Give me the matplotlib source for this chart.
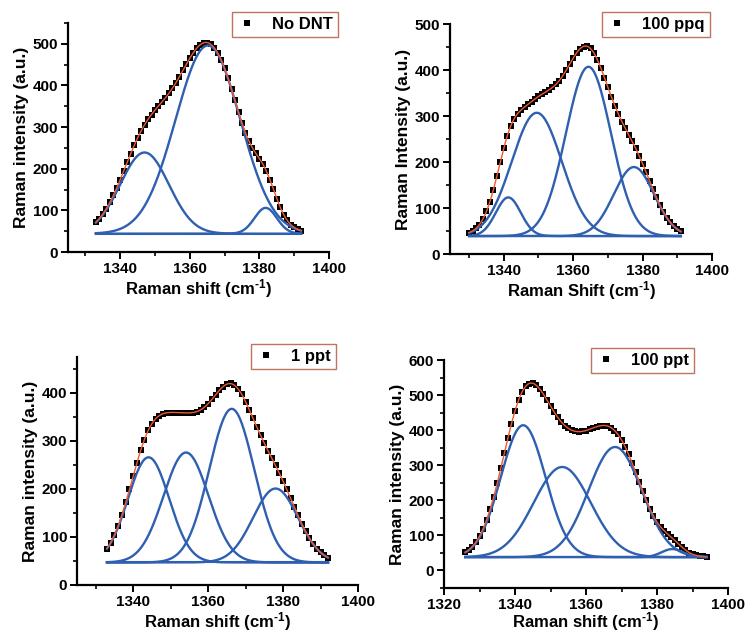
import numpy as np
import matplotlib
matplotlib.use("Agg")
import matplotlib.pyplot as plt
from matplotlib.ticker import MultipleLocator

plt.rcParams['font.family'] = ['Liberation Sans', 'DejaVu Sans']
plt.rcParams['font.weight'] = 'bold'
plt.rcParams['mathtext.fontset'] = 'custom'
plt.rcParams['mathtext.rm'] = 'Liberation Sans:bold'
plt.rcParams['mathtext.bf'] = 'Liberation Sans:bold'
plt.rcParams['mathtext.default'] = 'bf'

# ---------------- data ----------------
# Panel 1: No DNT
x_nodnt = list(range(1333, 1393))
y_nodnt = [72, 80, 91, 104, 119, 136, 154, 174, 194, 215, 236, 256, 274, 291, 306,
           319, 330, 341, 351, 360, 370, 381, 393, 406, 421, 436, 451, 465, 479, 490,
           498, 502, 503, 499, 491, 478, 461, 441, 417, 391, 364, 336, 310, 286, 266,
           250, 237, 224, 211, 194, 174, 152, 128, 107, 90, 76, 66, 59, 55, 51]
base_nodnt = 44
peaks_nodnt = [(1347.0, 195, 7.0), (1365.2, 452, 9.3), (1381.8, 62, 3.2)]  # centre, height, sigma

# Panel 2: 100 ppq
x_ppq = list(range(1330, 1392))
y_ppq = [46, 50, 56, 64, 76, 93, 114, 140, 169, 200, 230, 257, 278, 294, 305,
         313, 320, 326, 331, 337, 343, 347, 352, 357, 362, 369, 377, 388, 400, 413,
         426, 438, 446, 451, 452, 447, 436, 422, 404, 383, 363, 342, 322, 305, 288,
         274, 259, 245, 230, 214, 196, 178, 159, 141, 123, 107, 92, 79, 69, 60,
         54, 49]
base_ppq = 39
peaks_ppq = [(1341.3, 84, 3.6), (1349.5, 268, 7.2), (1364.4, 368, 6.5), (1377.5, 150, 5.8)]

# Panel 3: 1 ppt
x_1ppt = list(range(1333, 1393))
y_1ppt = [76, 88, 104, 123, 146, 172, 199, 227, 255, 281, 303, 322, 336, 346, 353,
          357, 359, 359, 359, 359, 359, 358, 359, 359, 361, 365, 370, 378, 387, 396,
          406, 413, 418, 420, 416, 408, 397, 382, 365, 347, 329, 312, 295, 280, 264,
          249, 233, 216, 199, 181, 162, 145, 127, 112, 98, 86, 76, 68, 62, 57]
base_1ppt = 47
peaks_1ppt = [(1344.1, 219, 5.5), (1354.1, 229, 6.0), (1366.3, 320, 6.0), (1378.0, 154, 6.0)]

# Panel 4: 100 ppt
x_100ppt = list(range(1326, 1395))
y_100ppt = [52, 59, 68, 81, 98, 119, 144, 175, 210, 249, 291, 334, 377, 418, 455,
            485, 509, 525, 533, 534, 528, 517, 502, 486, 469, 452, 437, 424, 413, 405,
            400, 397, 396, 397, 399, 402, 406, 410, 412, 413, 412, 407, 399, 388, 372,
            353, 331, 306, 280, 253, 226, 200, 176, 156, 138, 124, 113, 104, 95, 86,
            76, 67, 58, 51, 46, 43, 41, 40, 39]
base_100ppt = 38
peaks_100ppt = [(1342.3, 376, 6.3), (1353.3, 257, 8.0), (1368.2, 314, 7.5), (1384.3, 23, 3.0)]

labels = ["No DNT", "100 ppq", "1 ppt", "100 ppt"]
ylabels = ["Raman intensity (a.u.)", "Raman Intensity (a.u.)",
           "Raman intensity (a.u.)", "Raman intensity (a.u.)"]
xlabels = ["Raman shift (cm$^{\\text{-1}}$)", "Raman Shift (cm$^{\\text{-1}}$)",
           "Raman shift (cm$^{\\text{-1}}$)", "Raman shift (cm$^{\\text{-1}}$)"]

# ---------------- styling ----------------
W, H = 748, 633
BLUE = '#2f5fb0'
RED = '#ee5a32'
EDGE = '#b0503a'

fig = plt.figure(figsize=(W / 100, H / 100), dpi=100)

def px_axes(left, top, right, bottom):
    return fig.add_axes([left / W, 1 - bottom / H, (right - left) / W, (bottom - top) / H])

panels = [
    dict(x=x_nodnt, y=y_nodnt, base=base_nodnt, peaks=peaks_nodnt,
         box=(68, 23, 329, 252), xlim=(1325, 1400), ylim=(0, 550), xmaj=[1340, 1360, 1380, 1400],
         ymaj=[0, 100, 200, 300, 400, 500], leg=(232, 12), xlp=1),
    dict(x=x_ppq, y=y_ppq, base=base_ppq, peaks=peaks_ppq,
         box=(450, 24, 712, 254), xlim=(1324.5, 1400), ylim=(0, 500), xmaj=[1340, 1360, 1380, 1400],
         ymaj=[0, 100, 200, 300, 400, 500], leg=(602, 12), xlp=1),
    dict(x=x_1ppt, y=y_1ppt, base=base_1ppt, peaks=peaks_1ppt,
         box=(77, 357, 358, 585), xlim=(1325, 1400), ylim=(0, 475), xmaj=[1340, 1360, 1380, 1400],
         ymaj=[0, 100, 200, 300, 400], leg=(251, 344), xlp=1),
    dict(x=x_100ppt, y=y_100ppt, base=base_100ppt, peaks=peaks_100ppt,
         box=(444, 360, 728, 588), xlim=(1320, 1400), ylim=(-50, 600),
         xmaj=[1320, 1340, 1360, 1380, 1400],
         ymaj=[0, 100, 200, 300, 400, 500, 600], leg=(591, 348), xlp=-1),
]

for i, p in enumerate(panels):
    ax = px_axes(*p['box'])
    x = np.asarray(p['x'], float)
    y = np.asarray(p['y'], float)
    xf = np.linspace(x[0], x[-1], 600)
    total = np.full_like(xf, p['base'], dtype=float)
    comps = []
    for c, h, s in p['peaks']:
        g = h * np.exp(-(xf - c) ** 2 / (2 * s * s))
        comps.append(g)
        total = total + g
    ax.plot(x, y, 's', color='black', ms=3.7, mew=0, zorder=2, label=labels[i])
    ax.plot([x[0], x[-1]], [p['base'], p['base']], color=BLUE, lw=1.5, zorder=3)
    for g in comps:
        ax.plot(xf, p['base'] + g, color=BLUE, lw=1.7, zorder=3)
    ax.plot(xf, total, color=RED, lw=1.0, zorder=4)

    ax.set_xlim(*p['xlim'])
    ax.set_ylim(*p['ylim'])
    ax.set_xticks(p['xmaj'])
    ax.set_yticks(p['ymaj'])
    ax.xaxis.set_minor_locator(MultipleLocator(10))
    ax.yaxis.set_minor_locator(MultipleLocator(50))
    for side in ('top', 'right'):
        ax.spines[side].set_visible(False)
    for side in ('left', 'bottom'):
        ax.spines[side].set_linewidth(1.6)
    ax.tick_params(which='major', direction='out', length=5, width=1.4, labelsize=11, pad=2)
    ax.tick_params(which='minor', direction='out', length=3, width=1.2)
    for lab in ax.get_xticklabels() + ax.get_yticklabels():
        lab.set_fontweight('bold')
    ax.set_xlabel(xlabels[i], fontsize=12, fontweight='bold', labelpad=p['xlp'])
    ax.set_ylabel(ylabels[i], fontsize=12.5, fontweight='bold', labelpad=3)

    lx, ly = p['leg']
    leg = ax.legend(loc='upper left', bbox_to_anchor=(lx / W, 1 - ly / H),
                    bbox_transform=fig.transFigure, frameon=True, fancybox=False,
                    handlelength=1.2, handletextpad=0.9, borderpad=0.3,
                    borderaxespad=0, prop={'weight': 'bold', 'size': 12},
                    markerscale=1.1)
    leg.get_frame().set_edgecolor(EDGE)
    leg.get_frame().set_linewidth(1.0)

fig.savefig('out.png', dpi=100)
